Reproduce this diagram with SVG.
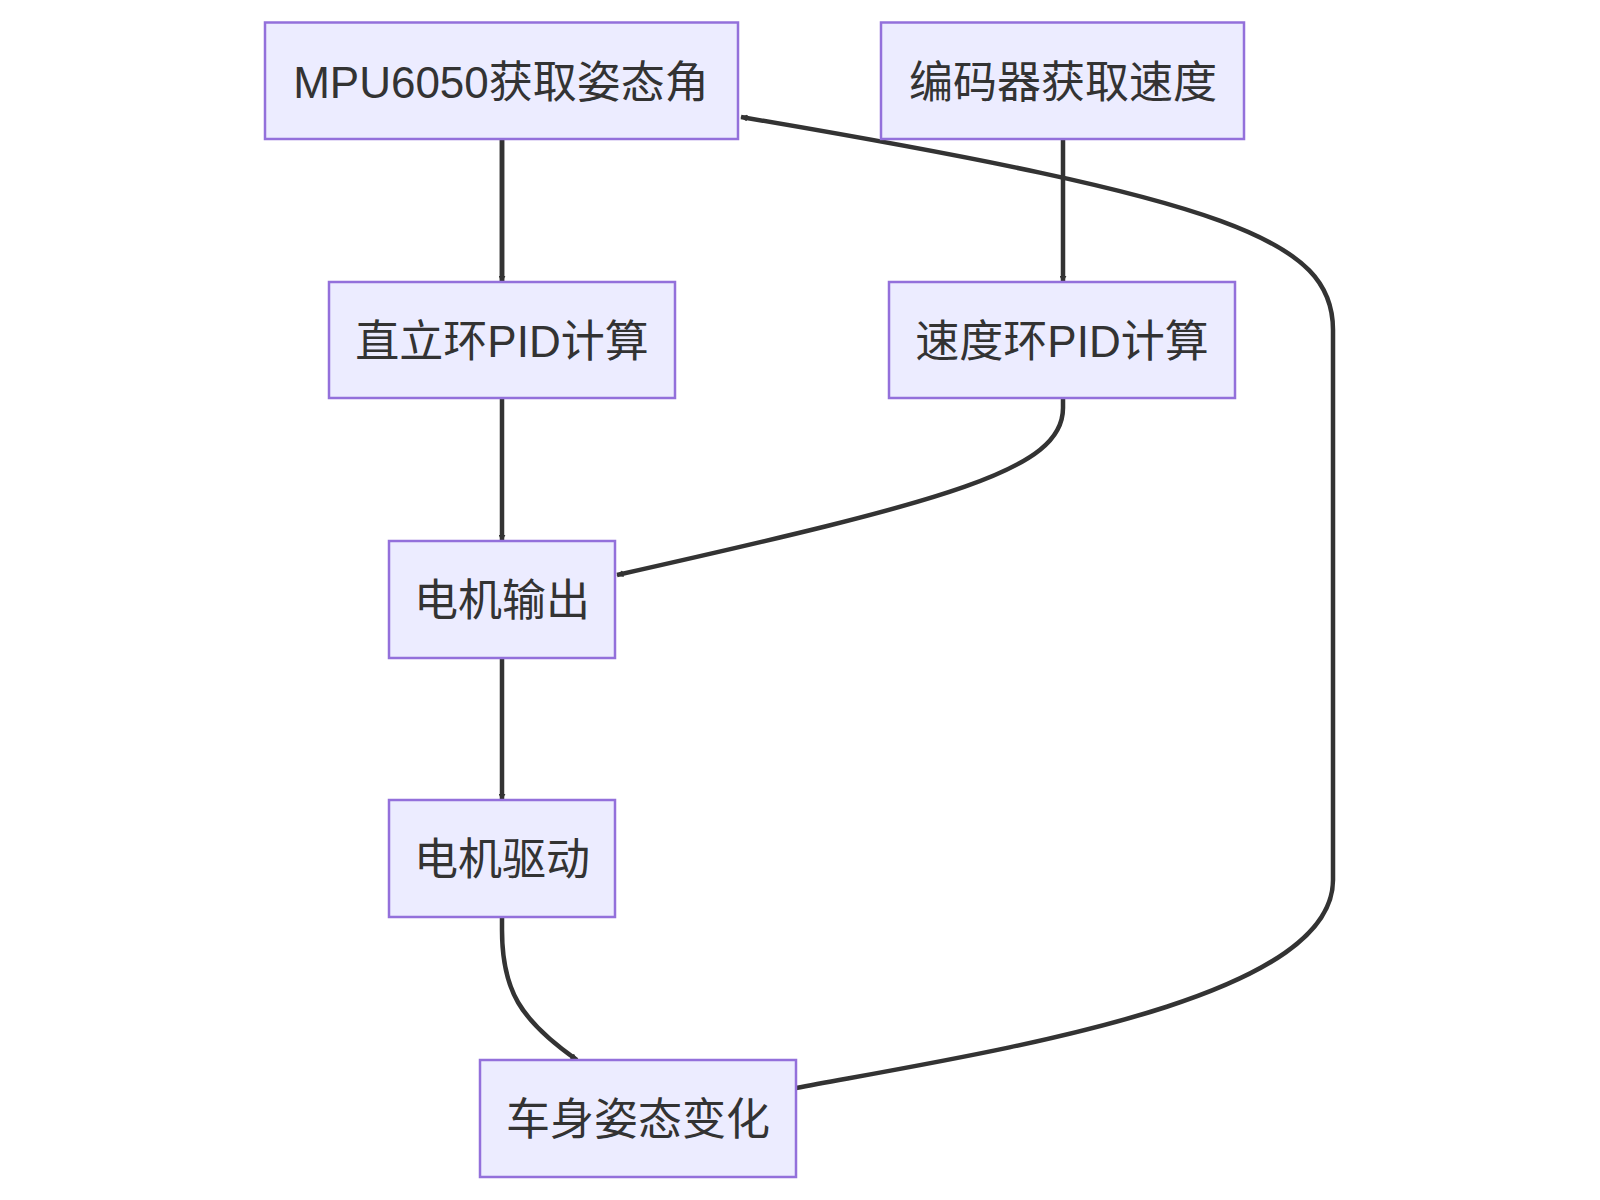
<svg xmlns="http://www.w3.org/2000/svg" width="1600" height="1200" viewBox="0 0 1600 1200">
<style>
.n rect{fill:#ECECFF;stroke:#9370DB;stroke-width:2.5}
.n text{font-family:"Liberation Sans","Noto Sans CJK SC",sans-serif;font-size:44px;fill:#333;text-anchor:middle;dominant-baseline:central}
.e path{fill:none;stroke:#333;stroke-width:4.5}
</style>
<defs><marker id="a" viewBox="0 0 10 10" refX="9" refY="5" markerWidth="7" markerHeight="7" markerUnits="userSpaceOnUse" orient="auto"><path d="M0,0L10,5L0,10z" fill="#333"/></marker></defs>
<rect width="1600" height="1200" fill="#fff"/>
<g class="e">
<path d="M502,139V282" marker-end="url(#a)" style="marker-end:none"/>
<path d="M502,139V282" marker-end="url(#a)"/>
<path d="M1063,139V282" marker-end="url(#a)"/>
<path d="M502,398V541" marker-end="url(#a)"/>
<path d="M1063,398V408C1063,470 950,500 617,575" marker-end="url(#a)"/>
<path d="M502,658V800" marker-end="url(#a)"/>
<path d="M502,917V930C502,990 520,1020 577,1060" marker-end="url(#a)"/>
<path d="M796,1088C1000,1050 1333,1000 1333,880V330C1333,240 1230,200 741,117" marker-end="url(#a)"/>
</g>
<g id="n1" class="n"><rect x="265" y="22.5" width="473" height="116.5"/><text x="501" y="82">MPU6050获取姿态角</text></g>
<g id="n2" class="n"><rect x="881" y="22.5" width="363" height="116.5"/><text x="1063" y="82">编码器获取速度</text></g>
<g id="n3" class="n"><rect x="329" y="282" width="346" height="116"/><text x="502" y="341">直立环PID计算</text></g>
<g id="n4" class="n"><rect x="889" y="282" width="346" height="116"/><text x="1062" y="341">速度环PID计算</text></g>
<g id="n5" class="n"><rect x="389" y="541" width="226" height="117"/><text x="502" y="600">电机输出</text></g>
<g id="n6" class="n"><rect x="389" y="800" width="226" height="117"/><text x="502" y="859">电机驱动</text></g>
<g id="n7" class="n"><rect x="480" y="1060" width="316" height="117"/><text x="638" y="1119">车身姿态变化</text></g>
</svg>
